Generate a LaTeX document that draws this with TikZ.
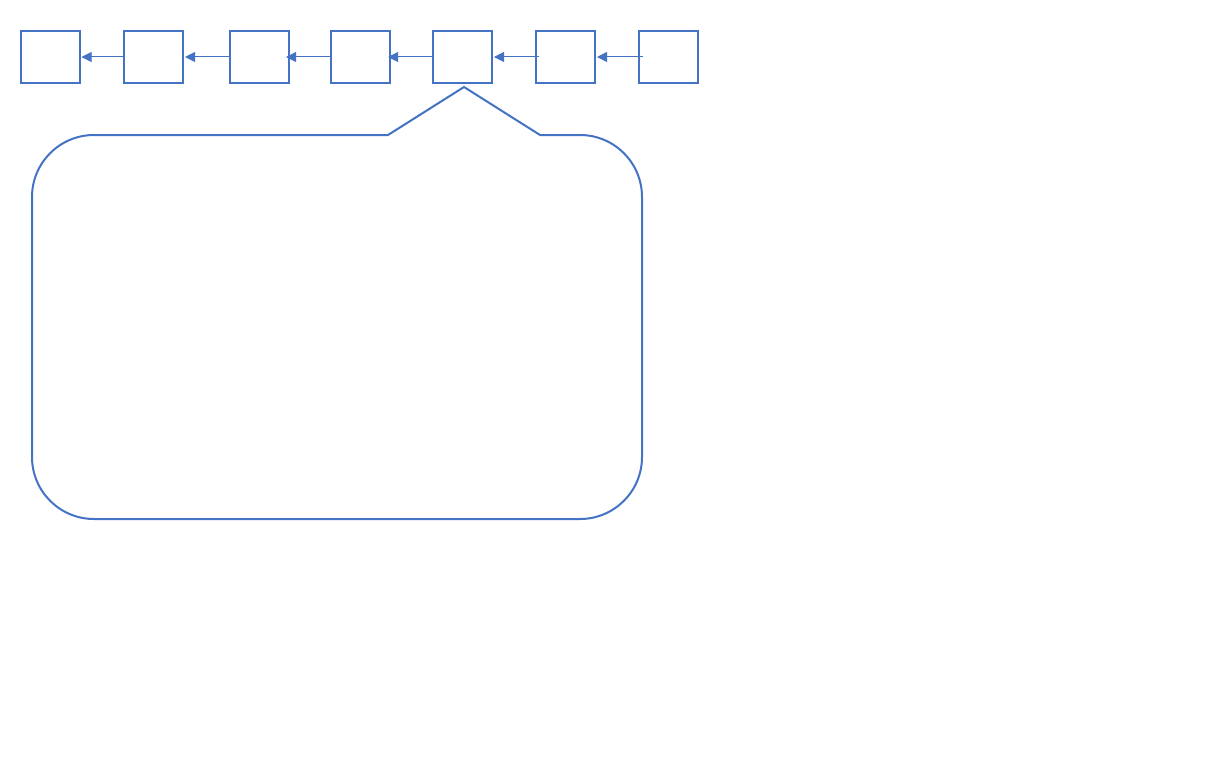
\documentclass[tikz,border=0pt]{standalone}
\usetikzlibrary{arrows.meta}
\definecolor{acc}{HTML}{4472C4}
\begin{document}
\begin{tikzpicture}[x=0.75pt,y=0.75pt,
  blk/.style={draw=acc,line width=1.5pt,minimum width=59*0.75pt,minimum height=51*0.75pt,inner sep=0pt},
  arr/.style={draw=acc,line width=0.75pt,-{Triangle[length=7.5pt,width=7.5pt]}},
  callout/.style={draw=acc,line width=1.5pt}]
\useasboundingbox (0,0) rectangle (1205,-767);
\node[blk] (b1) at (50,-57) {};
\node[blk] (b2) at (153.5,-57) {};
\node[blk] (b3) at (259.5,-57) {};
\node[blk] (b4) at (360.5,-57) {};
\node[blk] (b5) at (462.5,-57) {};
\node[blk] (b6) at (565.5,-57) {};
\node[blk] (b7) at (668,-57) {};
\draw[arr] (b2.west) -- ([xshift=0.75pt]b1.east);
\draw[arr] (b3.west) -- ([xshift=0.75pt]b2.east);
\draw[arr] (b4.west) -- ([xshift=-3pt]b3.east);
\draw[arr] (b5.west) -- ([xshift=-2.25pt]b4.east);
\draw[arr] ([xshift=3pt]b6.west) -- ([xshift=0.75pt]b5.east);
\draw[arr] ([xshift=3.75pt]b7.west) -- ([xshift=0.75pt]b6.east);
\coordinate (tip) at (464,-87);
\draw[callout] (388,-135) -- (tip) -- (540,-135) -- (580,-135)
  arc[start angle=90,end angle=0,radius=62] -- (642,-457)
  arc[start angle=0,end angle=-90,radius=62] -- (94,-519)
  arc[start angle=270,end angle=180,radius=62] -- (32,-197)
  arc[start angle=180,end angle=90,radius=62] -- cycle;
\end{tikzpicture}
\end{document}
